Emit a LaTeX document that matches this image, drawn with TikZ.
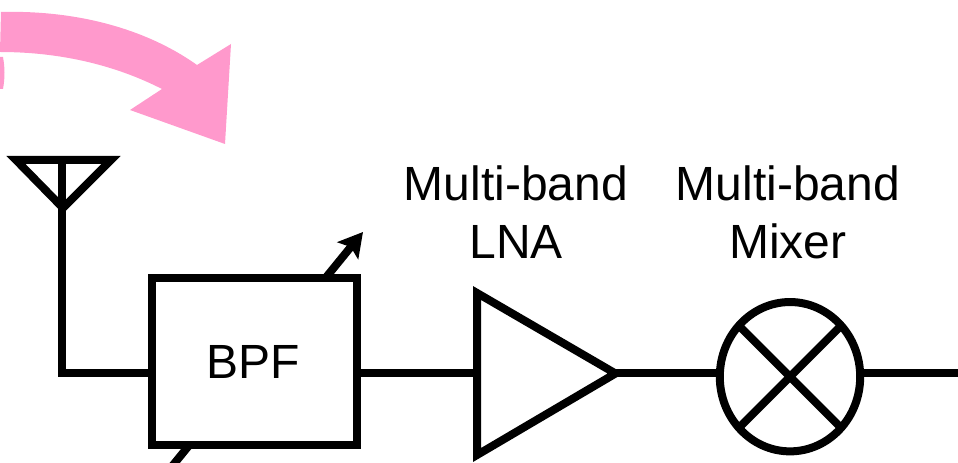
\documentclass[tikz,border=0pt]{standalone}
\usepackage{fontspec}
\setmainfont{Liberation Sans}
\usetikzlibrary{arrows.meta,shapes.geometric}
\definecolor{beampink}{HTML}{FF99CC}
\tikzset{
  wire/.style={line width=6pt},
  block/.style={draw,line width=6pt,fill=white,rectangle,inner sep=0pt,outer sep=0pt,
    minimum width=153.75pt,minimum height=125.25pt},
  mixerbox/.style={draw,line width=6pt,fill=white,ellipse,inner sep=0pt,outer sep=0pt,
    minimum width=105.3pt,minimum height=112pt},
  label/.style={font=\fontsize{36pt}{40pt}\selectfont,inner sep=0pt,anchor=base},
  tune/.style={line width=6pt,-{Stealth[length=18pt,width=20pt,inset=3.5pt]}},
}
\begin{document}
\begin{tikzpicture}[x=0.75pt,y=-0.75pt]
\useasboundingbox (0,0) rectangle (958,463);
\clip (0,0) rectangle (958,463);
% pink beam
\fill[beampink] (1,12) .. controls (75,10) and (145,28) .. (197,65) -- (231,44) -- (225,144) -- (130,110) -- (162,89)
  .. controls (115,65) and (60,52) .. (0,52) -- cycle;
\fill[beampink] (0,57) -- (3,57) .. controls (5,68) and (5,78) .. (3,89) -- (0,89) -- cycle;
% named points
\coordinate (apex) at (63,208);
\coordinate (antL) at (16,160);
\coordinate (antR) at (111,160);
\coordinate (antT) at (62,160);
\coordinate (corner) at (62,373.5);
\coordinate (lnaL) at (477,293);
\coordinate (lnaB) at (477,455);
\coordinate (lnaR) at (615.5,373.5);
\coordinate (out) at (958,373.5);
\coordinate (tuneS) at (169,470);
\coordinate (tuneE) at (363,232);
% antenna
\draw[wire,miter limit=10] (antL) -- (antR) -- (apex) -- cycle;
\draw[wire] (antT) -- (corner);
% tuning arrow, behind the filter
\draw[tune] (tuneS) -- (tuneE);
% blocks
\node[block] (bpf) at (254,362) {};
\node[label] at (253,379) {BPF};
\draw[wire] ([xshift=-3pt]corner) -- (bpf.west |- corner);
\draw[wire] (bpf.east |- corner) -- (lnaL |- corner);
\draw[wire,miter limit=10,fill=white] (lnaL) -- (lnaR) -- (lnaB) -- cycle;
\node[mixerbox] (mixer) at (790,376.7) {};
\draw[wire] (mixer.135) -- (mixer.-45);
\draw[wire] (mixer.45) -- (mixer.-135);
\draw[wire] (lnaR) -- (mixer.west |- lnaR);
\draw[wire] (mixer.east |- lnaR) -- (out);
% labels
\node[label] at (516,200.5) {Multi-band};
\node[label] at (516,259) {LNA};
\node[label] at (788,200.5) {Multi-band};
\node[label] at (788,259) {Mixer};
\end{tikzpicture}
\end{document}
